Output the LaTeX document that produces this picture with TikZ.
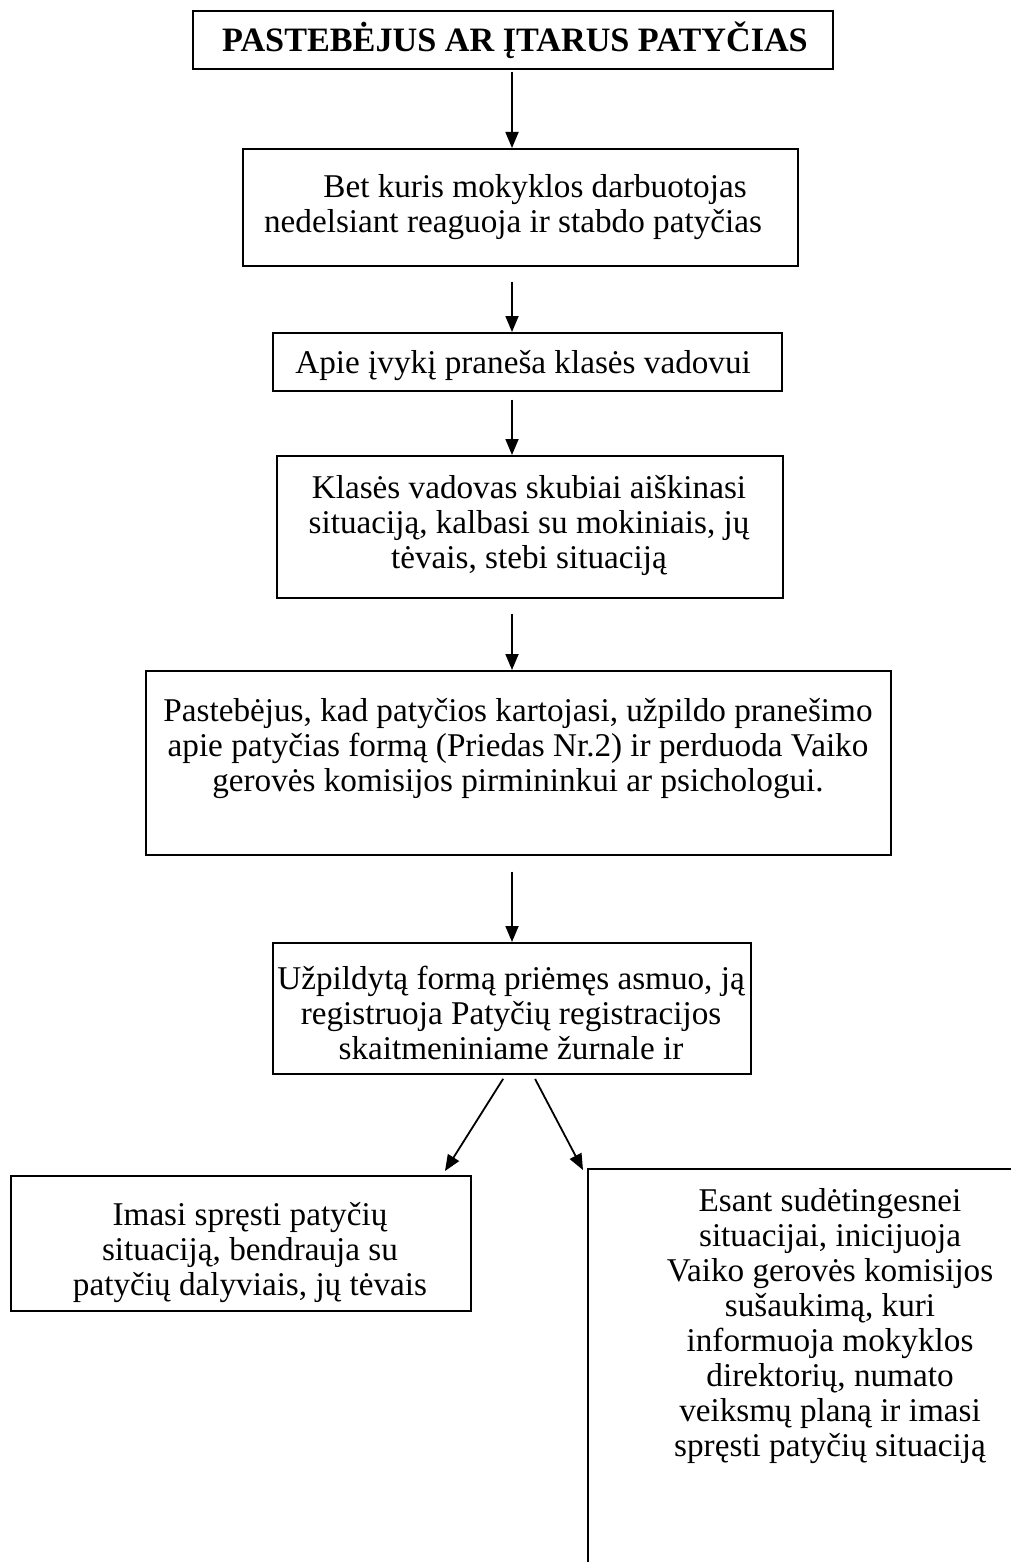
\documentclass[tikz,border=0pt]{standalone}
\usepackage{fontspec}
\setmainfont{Liberation Serif}
\usetikzlibrary{arrows.meta,calc}
\begin{document}
\begin{tikzpicture}[x=0.5pt,y=-0.5pt,
  box/.style={draw, line width=0.8pt, inner sep=0pt, anchor=north west},
  txt/.style={inner sep=0pt, align=center, anchor=base, font=\fontsize{16.6}{17.5}\selectfont},
  arr/.style={line width=0.9pt, -{Triangle[length=8pt,width=6.5pt]}}]
\useasboundingbox (0,0) rectangle (1011,1562);
\clip (0,0) rectangle (1011,1562);
\fill[white] (0,0) rectangle (1011,1562);
\coordinate (ax) at (512,0);
% boxes
\node[box, minimum width=320pt, minimum height=29pt] (b1) at (192,10) {};
\node[box, minimum width=277.5pt, minimum height=58.5pt] (b2) at (242,148) {};
\node[box, minimum width=254.5pt, minimum height=29pt] (b3) at (272,332) {};
\node[box, minimum width=253pt, minimum height=71pt] (b4) at (276,455) {};
\node[box, minimum width=372.5pt, minimum height=92pt] (b5) at (145,670) {};
\node[box, minimum width=239pt, minimum height=65.5pt] (b6) at (272,942) {};
\node[box, minimum width=230pt, minimum height=67.5pt] (b7) at (10,1175) {};
\node[box, minimum width=300pt, minimum height=300pt] (b8) at (587,1168) {};
% texts (anchored at the baseline of the last line)
\node[txt, font=\fontsize{17.1}{18}\selectfont\bfseries] (t1) at (515,52) {PASTEBĖJUS AR ĮTARUS PATYČIAS};
\node[txt] (t2) at (513,233) {\hspace*{22pt}Bet kuris mokyklos darbuotojas\\nedelsiant reaguoja ir stabdo patyčias};
\node[txt, anchor=base west] (t3) at (295,373) {Apie įvykį praneša klasės vadovui};
\node[txt] (t4) at (529,568) {Klasės vadovas skubiai aiškinasi\\situaciją, kalbasi su mokiniais, jų\\tėvais, stebi situaciją};
\node[txt] (t5) at (518,791) {Pastebėjus, kad patyčios kartojasi, užpildo pranešimo\\apie patyčias formą (Priedas Nr.2) ir perduoda Vaiko\\gerovės komisijos pirmininkui ar psichologui.};
\node[txt] (t6) at (511,1059) {Užpildytą formą priėmęs asmuo, ją\\registruoja Patyčių registracijos\\skaitmeniniame žurnale ir};
\node[txt] (t7) at (250,1295) {Imasi spręsti patyčių\\situaciją, bendrauja su\\patyčių dalyviais, jų tėvais};
\node[txt] (t8) at (830,1456) {Esant sudėtingesnei\\situacijai, inicijuoja\\Vaiko gerovės komisijos\\sušaukimą, kuri\\informuoja mokyklos\\direktorių, numato\\veiksmų planą ir imasi\\spręsti patyčių situaciją};
% connectors
\draw[arr, shorten <=1pt] (b1.south -| ax) -- (b2.north -| ax);
\draw[arr, shorten <=7.5pt] (b2.south -| ax) -- (b3.north -| ax);
\draw[arr, shorten <=4pt] (b3.south -| ax) -- (b4.north -| ax);
\draw[arr, shorten <=7.5pt] (b4.south -| ax) -- (b5.north -| ax);
\draw[arr, shorten <=8pt] (b5.south -| ax) -- (b6.north -| ax);
\coordinate (dl) at ($(b7.north west)+(435,-4)$);
\coordinate (dr) at ($(b8.north west)+(-4,2)$);
\draw[arr, shorten <=2.5pt] ($(b6.south)+(-6,0)$) -- (dl);
\draw[arr, shorten <=2.5pt] ($(b6.south)+(21,0)$) -- (dr);
\end{tikzpicture}
\end{document}
